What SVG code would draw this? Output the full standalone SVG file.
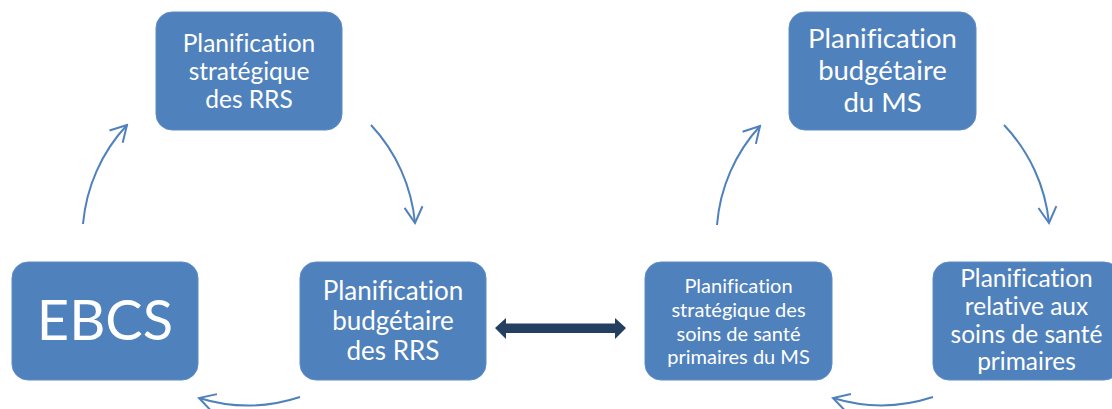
<svg xmlns="http://www.w3.org/2000/svg" width="1112" height="409" viewBox="0 0 1112 409">
<defs>
<style>
.box{fill:#4F81BD;stroke:#5E8CC4;stroke-width:1}
.t{fill:#fff;font-family:Lato,"Liberation Sans",sans-serif;text-anchor:middle;font-variant-ligatures:no-common-ligatures no-discretionary-ligatures;font-feature-settings:"liga" 0,"dlig" 0}
.arc{fill:none;stroke:#4F81BD;stroke-width:2;marker-end:url(#chev)}
</style>
<marker id="chev" markerUnits="userSpaceOnUse" viewBox="-20 -12 22 24" markerWidth="22" markerHeight="24" refX="0" refY="0" orient="auto">
<path d="M-16,-9 L0,0 L-16,9" fill="none" stroke="#4F81BD" stroke-width="2"/>
</marker>
</defs>
<rect width="1112" height="409" fill="#fff"/>
<g id="connectors">
<path class="arc" d="M83,224 A166,166 0 0 1 127,125"/>
<path class="arc" d="M371,125 A166,166 0 0 1 415,223"/>
<path class="arc" d="M300,397 A166,166 0 0 1 199,398"/>
<path class="arc" d="M717,225 A166,166 0 0 1 760,126"/>
<path class="arc" d="M1004,125 A166,166 0 0 1 1049,223"/>
<path class="arc" d="M933,397 A166,166 0 0 1 833,398"/>
<polygon points="495,328 506,318 506,323.5 615,323.5 615,318 626,328 615,339 615,333 506,333 506,339" fill="#243F60"/>
</g>
<g id="n-strat-rrs">
<rect class="box" x="156" y="12" width="186" height="118" rx="16"/>
<text class="t" font-size="24.5" x="249" y="52">Planification</text>
<text class="t" font-size="24.5" x="249" y="80">stratégique</text>
<text class="t" font-size="24.5" x="249" y="108">des RRS</text>
</g>
<g id="n-ebcs">
<rect class="box" x="12" y="262" width="186" height="118" rx="16"/>
<text class="t" font-size="56" x="105" y="340">EBCS</text>
</g>
<g id="n-budget-rrs">
<rect class="box" x="300" y="262" width="186" height="118" rx="16"/>
<text class="t" font-size="26" x="393" y="300">Planification</text>
<text class="t" font-size="26" x="393" y="330">budgétaire</text>
<text class="t" font-size="26" x="393" y="360">des RRS</text>
</g>
<g id="n-budget-ms">
<rect class="box" x="789" y="12" width="187" height="118" rx="16"/>
<text class="t" font-size="27.5" x="882.5" y="48">Planification</text>
<text class="t" font-size="27.5" x="882.5" y="80">budgétaire</text>
<text class="t" font-size="27.5" x="882.5" y="112">du MS</text>
</g>
<g id="n-strat-ssp">
<rect class="box" x="645" y="262" width="187" height="118" rx="16"/>
<text class="t" font-size="20" x="738.5" y="293">Planification</text>
<text class="t" font-size="20" x="738.5" y="317">stratégique des</text>
<text class="t" font-size="20" x="738.5" y="341">soins de santé</text>
<text class="t" font-size="20" x="738.5" y="364">primaires du MS</text>
</g>
<g id="n-relative-ssp">
<rect class="box" x="933" y="262" width="187" height="118" rx="16"/>
<text class="t" font-size="24.5" x="1026.5" y="287">Planification</text>
<text class="t" font-size="24.5" x="1026.5" y="315">relative aux</text>
<text class="t" font-size="24.5" x="1026.5" y="343">soins de santé</text>
<text class="t" font-size="24.5" x="1026.5" y="370">primaires</text>
</g>
</svg>
